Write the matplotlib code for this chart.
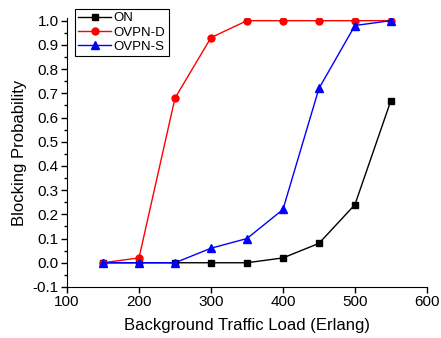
import matplotlib
matplotlib.use("Agg")
import matplotlib.pyplot as plt
from matplotlib.ticker import MultipleLocator

plt.rcParams['font.family'] = ['Liberation Sans', 'DejaVu Sans']

load = [150, 200, 250, 300, 350, 400, 450, 500, 550]
on = [0.0, 0.0, 0.0, 0.0, 0.0, 0.02, 0.08, 0.24, 0.67]
ovpn_d = [0.0, 0.02, 0.68, 0.93, 1.0, 1.0, 1.0, 1.0, 1.0]
ovpn_s = [0.0, 0.0, 0.0, 0.06, 0.10, 0.22, 0.72, 0.98, 1.0]

fig = plt.figure(figsize=(4.41, 3.38), dpi=100)
ax = fig.add_axes([0.152, 0.151, 0.816, 0.795])

ax.plot(load, on, color='black', marker='s', markersize=5, linewidth=1, label='ON')
ax.plot(load, ovpn_d, color='red', marker='o', markersize=5, linewidth=1, label='OVPN-D')
ax.plot(load, ovpn_s, color='blue', marker='^', markersize=6, linewidth=1, label='OVPN-S')

ax.set_xlim(100, 600)
ax.set_ylim(-0.1, 1.01)
ax.xaxis.set_major_locator(MultipleLocator(100))
ax.yaxis.set_minor_locator(MultipleLocator(0.05))
ax.set_yticks([-0.1 + 0.1 * i for i in range(12)])
ax.set_yticklabels(['%.1f' % (-0.1 + 0.1 * i) for i in range(12)])

for s in ['top', 'right']:
    ax.spines[s].set_visible(False)
ax.tick_params(which='major', direction='out', length=4, width=1, labelsize=11, pad=2)
ax.tick_params(which='minor', direction='out', length=2, width=1)

ax.set_xlabel('Background Traffic Load (Erlang)', fontsize=12, labelpad=6)
ax.set_ylabel('Blocking Probability', fontsize=12, labelpad=4)

leg = ax.legend(loc='upper left', bbox_to_anchor=(0.022, 1.035), borderaxespad=0,
                fontsize=9.5, fancybox=False, edgecolor='black', framealpha=1,
                handlelength=2.5, handletextpad=0.2, borderpad=0.25, labelspacing=0.15)
leg.get_frame().set_linewidth(0.8)

fig.savefig('out.png', dpi=100)
